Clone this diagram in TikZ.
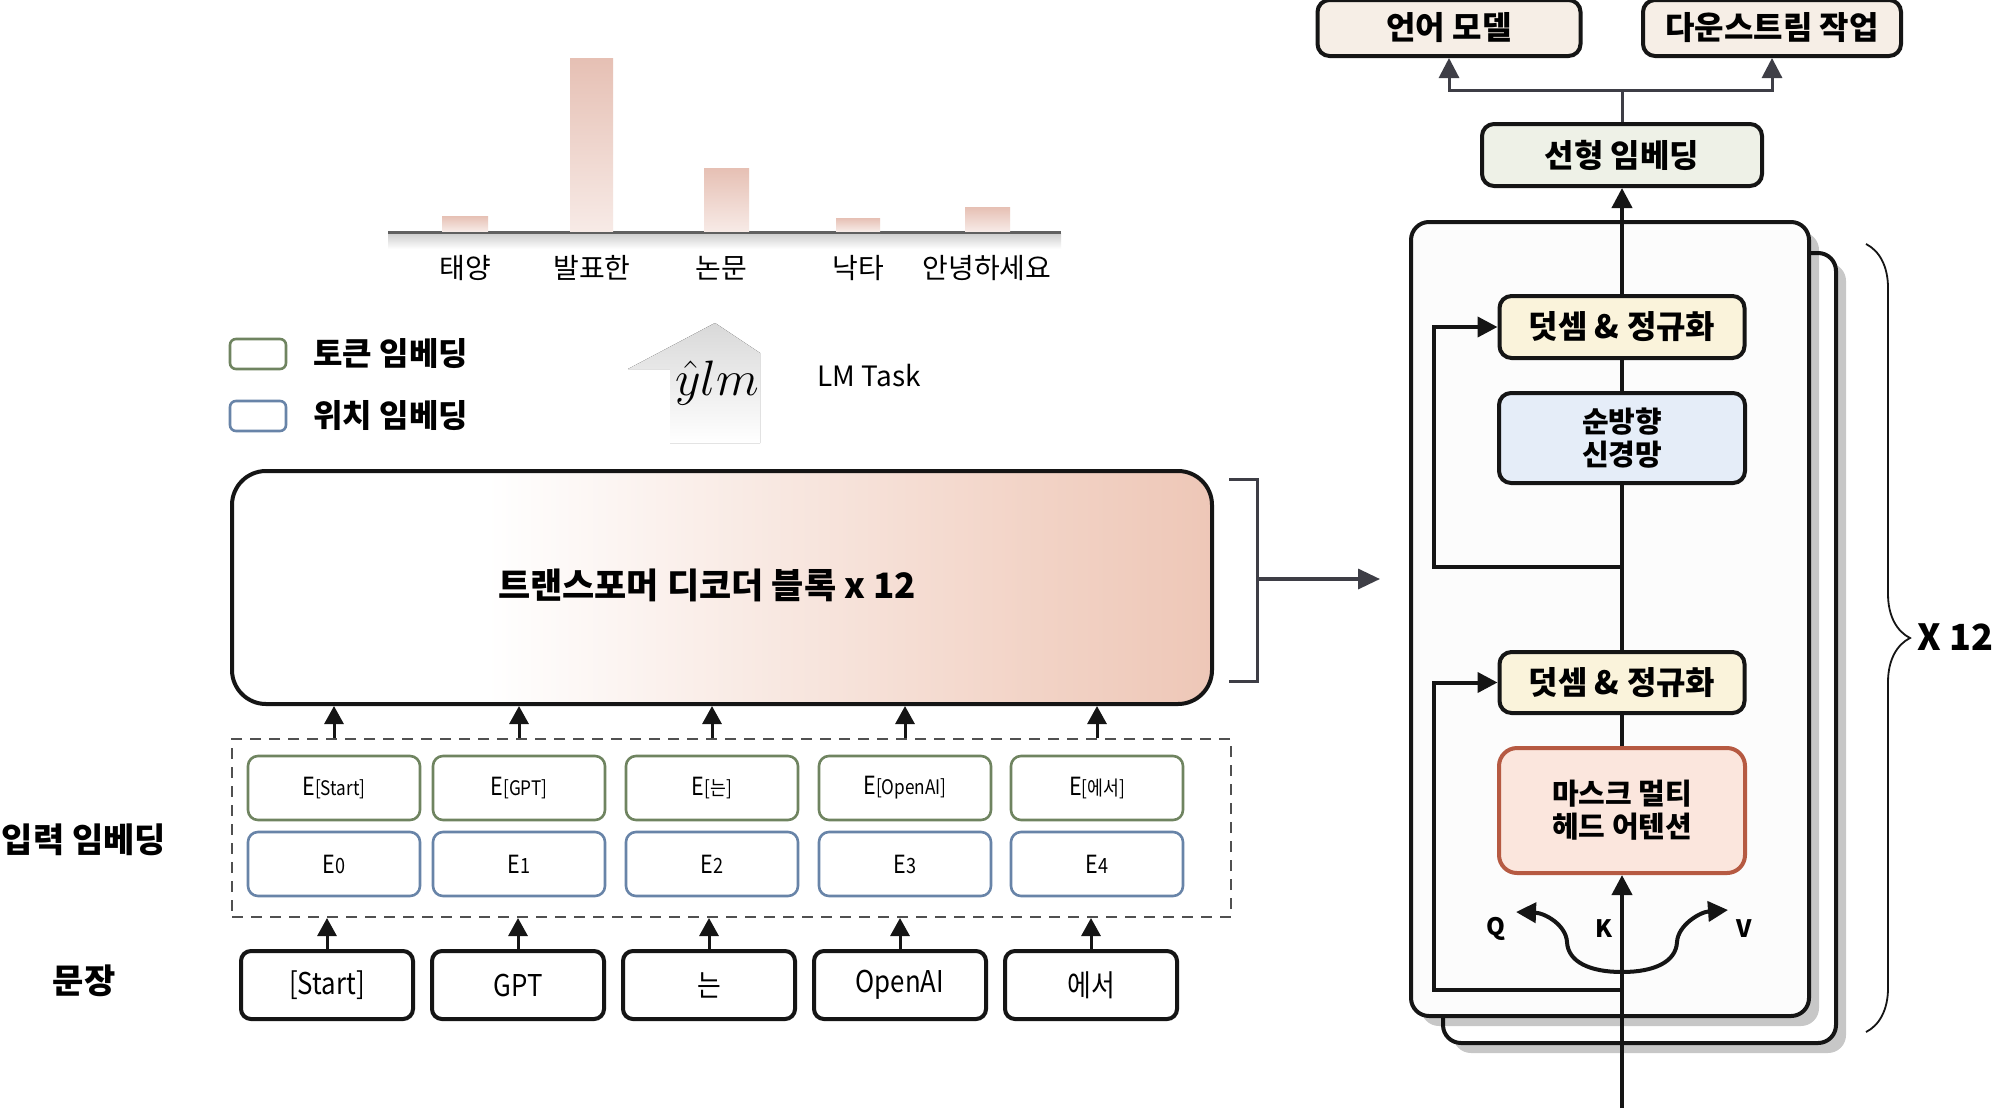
\documentclass[tikz,border=0pt]{standalone}
\usepackage{fontspec}
\setmainfont{Noto Sans CJK KR}
\newfontfamily\condfont[FakeStretch=0.86]{Noto Sans CJK KR}
\usetikzlibrary{arrows.meta,shadows,decorations.pathreplacing,calc}
\definecolor{ink}{HTML}{151515}
\definecolor{tokgreen}{HTML}{6F8460}
\definecolor{posblue}{HTML}{6884A8}
\definecolor{arrgray}{HTML}{3E3E46}
\definecolor{dashgray}{HTML}{505050}
\definecolor{decmid}{HTML}{F2D3C6}
\definecolor{decright}{HTML}{E2A68E}
\definecolor{bartop}{HTML}{E6C0B4}
\definecolor{barbot}{HTML}{F7EAE6}
\definecolor{lmfill}{HTML}{F6EEE6}
\definecolor{linfill}{HTML}{EEF1E7}
\definecolor{addfill}{HTML}{FAF3DB}
\definecolor{ffnfill}{HTML}{E5EDF8}
\definecolor{mhafill}{HTML}{FBE6DD}
\definecolor{mhaedge}{HTML}{B65A42}
\pgfdeclarehorizontalshading{decshade}{100bp}{color(0bp)=(white); color(38bp)=(white); color(66bp)=(decmid); color(100bp)=(decright)}
\tikzset{
  legbox/.style={minimum width=28pt, minimum height=15pt, rounded corners=3pt, line width=1.3pt, inner sep=0pt},
  legtxt/.style={font=\fontsize{16}{19}\selectfont\bfseries, inner sep=0pt},
  barlbl/.style={font=\fontsize{14}{17}\selectfont, inner sep=0pt},
  bar/.style={top color=bartop, bottom color=barbot},
  dec/.style={draw=ink, line width=2pt, rounded corners=17pt, minimum width=490pt, minimum height=116.5pt, inner sep=0pt, shading=decshade},
  dectxt/.style={font=\fontsize{17.5}{21}\selectfont\bfseries, inner sep=0pt},
  dashbox/.style={draw=dashgray, line width=1pt, dash pattern=on 5.5pt off 4pt, minimum width=499.5pt, minimum height=89pt, inner sep=0pt},
  tok/.style={draw=tokgreen, line width=1.3pt, rounded corners=5pt, minimum width=86pt, minimum height=32pt, inner sep=0pt, font=\condfont\fontsize{12.5}{15}\selectfont},
  posb/.style={tok, draw=posblue},
  sent/.style={draw=ink, line width=2pt, rounded corners=5pt, minimum width=86pt, minimum height=34pt, inner sep=0pt, font=\condfont\fontsize{15}{18}\selectfont},
  arr/.style={draw=ink, line width=1.5pt, -{Triangle[length=9pt,width=9.5pt]}},
  bigarr/.style={draw=arrgray, line width=1.7pt, -{Triangle[length=11pt,width=10pt]}},
  sidelbl/.style={font=\fontsize{17}{20}\selectfont\bfseries, inner sep=0pt},
  rbox/.style={draw=ink, line width=2pt, rounded corners=6pt, inner sep=0pt, align=center, font=\fontsize{16}{16.5}\selectfont\bfseries},
  rbox2/.style={rbox, font=\fontsize{14.5}{16.5}\selectfont\bfseries},
  tarr/.style={draw=arrgray, line width=1.5pt, -{Triangle[length=10pt,width=10pt]}},
  tline/.style={draw=arrgray, line width=1.5pt},
  blk/.style={draw=ink, line width=2pt, rounded corners=9pt, inner sep=0pt, drop shadow={shadow xshift=5pt, shadow yshift=-5pt, fill=black, opacity=0.22}},
  mline/.style={draw=ink, line width=2pt},
  marr/.style={draw=ink, line width=2pt, -{Triangle[length=10pt,width=10pt]}},
  qlbl/.style={font=\fontsize{12}{14}\selectfont\bfseries, inner sep=0pt},
}
\begin{document}
\begin{tikzpicture}[x=0.5pt,y=-0.5pt]
\useasboundingbox (0,0) rectangle (2000,1108);
\fill[white] (0,0) rectangle (2000,1108);

% ---------- bar chart ----------
\fill[top color=gray!40, bottom color=white] (388,233) rectangle (1061,249);
\draw[draw=gray!75!black, line width=1.5pt] (388,232) -- (1061,232);
\fill[bar] (442,216) rectangle (488,231);
\fill[bar] (570,58) rectangle (613,231);
\fill[bar] (704,168) rectangle (749,231);
\fill[bar] (836,218) rectangle (880,231);
\fill[bar] (965,207) rectangle (1010,231);
\node[barlbl] (w1) at (465,268) {태양};
\node[barlbl] (w2) at (592,268) {발표한};
\node[barlbl] (w3) at (721,268) {논문};
\node[barlbl] (w4) at (858,268) {낙타};
\node[barlbl] (w5) at (987,268) {안녕하세요};

% ---------- legend ----------
\node[legbox, draw=tokgreen] (leg1) at (258,354) {};
\node[legtxt, anchor=west] (leg1t) at (313,354) {토큰 임베딩};
\node[legbox, draw=posblue] (leg2) at (258,416) {};
\node[legtxt, anchor=west] (leg2t) at (313,416) {위치 임베딩};

% ---------- LM arrow ----------
\fill[top color=gray!30, bottom color=white] (715,323) -- (760,353) -- (760,443) -- (670,443) -- (670,369) -- (628,369) -- cycle;
\node[font=\fontsize{24}{28}\selectfont, inner sep=0pt] (ylm) at (717,383) {$\hat{y}lm$};
\node[font=\fontsize{14}{17}\selectfont, inner sep=0pt] (lmtask) at (869,376) {LM Task};

% ---------- decoder block ----------
\node[dec] (dec) at (722,587.5) {};
\node[dectxt] (dect) at (707,585) {트랜스포머 디코더 블록 x 12};
\draw[draw=arrgray, line width=1.5pt] (1229,479) -- (1257,479) -- (1257,681) -- (1229,681);
\coordinate (brk) at (1257,579);
\coordinate (blkin) at (1380,579);
\draw[bigarr] (brk) -- (blkin);

% ---------- embeddings ----------
\node[dashbox] (emb) at (731.5,828) {};
\node[tok] (t1) at (334,788) {E{\fontsize{10}{12}\selectfont [Start]}};
\node[tok] (t2) at (519,788) {E{\fontsize{10}{12}\selectfont [GPT]}};
\node[tok] (t3) at (712,788) {E{\fontsize{10}{12}\selectfont [는]}};
\node[tok] (t4) at (905,788) {E{\fontsize{10}{12}\selectfont [OpenAI]}};
\node[tok] (t5) at (1097,788) {E{\fontsize{10}{12}\selectfont [에서]}};
\node[posb] (p1) at (334,864) {E{\fontsize{10.5}{12}\selectfont 0}};
\node[posb] (p2) at (519,864) {E{\fontsize{10.5}{12}\selectfont 1}};
\node[posb] (p3) at (712,864) {E{\fontsize{10.5}{12}\selectfont 2}};
\node[posb] (p4) at (905,864) {E{\fontsize{10.5}{12}\selectfont 3}};
\node[posb] (p5) at (1097,864) {E{\fontsize{10.5}{12}\selectfont 4}};

\node[sent] (s1) at (327,985) {[Start]};
\node[sent] (s2) at (518,985) {GPT};
\node[sent] (s3) at (709,985) {는};
\node[sent] (s4) at (900,985) {OpenAI};
\node[sent] (s5) at (1091,985) {에서};

\foreach \i in {1,...,5}{
  \draw[arr] (s\i.north) -- (s\i.north |- emb.south);
  \draw[arr] (t\i.center |- emb.north) -- (t\i.center |- dec.south);
}

\node[sidelbl] (inlbl) at (84,840) {입력 임베딩};
\node[sidelbl] (sentlbl) at (84,981) {문장};

% ---------- right: transformer layer ----------
\node[rbox, fill=lmfill, minimum width=131.5pt, minimum height=28pt] (lm) at (1449,28) {언어 모델};
\node[rbox, fill=lmfill, minimum width=129pt, minimum height=28pt] (ds) at (1772,28) {다운스트림 작업};
\node[rbox, fill=linfill, minimum width=140pt, minimum height=31pt] (lin) at (1622,155) {선형 임베딩};
\coordinate (jn) at (1622,90);
\draw[tline] (lin.north) -- (jn);
\draw[tarr] (jn) -- (lm.south |- jn) -- (lm.south);
\draw[tarr] (jn) -- (ds.south |- jn) -- (ds.south);

\node[blk, fill=white, minimum width=196.5pt, minimum height=395pt] (back) at (1639.5,648) {};
\node[blk, fill=white!98!gray, minimum width=199pt, minimum height=397pt] (front) at (1610,619) {};

\node[rbox, fill=addfill, minimum width=122.5pt, minimum height=31pt] (add1) at (1622,327) {덧셈 \& 정규화};
\node[rbox2, fill=ffnfill, minimum width=123pt, minimum height=45pt] (ffn) at (1622,438) {순방향\\신경망};
\node[rbox, fill=addfill, minimum width=122.5pt, minimum height=30.5pt] (add2) at (1622,682.5) {덧셈 \& 정규화};
\node[rbox2, fill=mhafill, draw=mhaedge, rounded corners=9pt, minimum width=123pt, minimum height=62.5pt] (mha) at (1622,810.5) {마스크 멀티\\헤드 어텐션};

\coordinate (bot) at (1622,1108);
\draw[marr] (bot) -- (mha.south);
\draw[mline] (mha.north) -- (add2.south);
\draw[mline] (add2.north) -- (ffn.south);
\draw[mline] (ffn.north) -- (add1.south);
\draw[marr] (add1.north) -- (lin.south);
\coordinate (r1) at (1622,567);
\coordinate (r1l) at (1434,567);
\draw[marr] (r1) -- (r1l) |- (add1.west);
\coordinate (r2) at (1622,990);
\coordinate (r2l) at (1434,990);
\draw[marr] (r2) -- (r2l) |- (add2.west);

\coordinate (qkv) at (1622,972);
\coordinate (qt) at (1516,912);
\coordinate (vt) at (1728,910);
\draw[marr] (qkv) .. controls (1590,972) and (1568,962) .. (1567,942) .. controls (1566,925) and (1545,913) .. (qt);
\draw[marr] (qkv) .. controls (1654,972) and (1676,962) .. (1677,942) .. controls (1678,925) and (1700,912) .. (vt);
\node[qlbl] (ql) at (1496,929) {Q};
\node[qlbl] (kl) at (1604,929) {K};
\node[qlbl] (vl) at (1744,929) {V};

\draw[draw=ink, line width=0.9pt, decorate, decoration={brace, amplitude=22pt}] (1866,244) -- (1866,1032);
\node[font=\fontsize{18}{21}\selectfont\bfseries, inner sep=0pt, anchor=west] (x12) at (1917,637) {X 12};
\end{tikzpicture}
\end{document}
